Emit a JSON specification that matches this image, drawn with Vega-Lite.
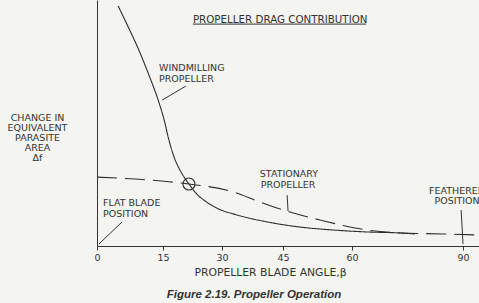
{
  "$schema": "https://vega.github.io/schema/vega-lite/v6.json",
  "width": 382,
  "height": 246,
  "autosize": {"type": "none"},
  "padding": {"left": 97, "top": 0, "right": 0, "bottom": 57},
  "background": "#f4f4f1",
  "config": {"view": {"stroke": null}, "font": "DejaVu Sans"},
  "title": {
    "text": "Figure 2.19. Propeller Operation",
    "orient": "bottom",
    "anchor": "middle",
    "dx": -34,
    "offset": 12,
    "font": "Liberation Sans",
    "fontSize": 11.5,
    "fontWeight": "bold",
    "fontStyle": "italic",
    "color": "#333333"
  },
  "datasets": {
    "curves": [
      {"series": "Windmilling", "angle": 4.8, "drag": 97.6},
      {"series": "Windmilling", "angle": 7.0, "drag": 89.4},
      {"series": "Windmilling", "angle": 9.5, "drag": 79.7},
      {"series": "Windmilling", "angle": 11.8, "drag": 69.5},
      {"series": "Windmilling", "angle": 13.9, "drag": 59.3},
      {"series": "Windmilling", "angle": 15.3, "drag": 51.2},
      {"series": "Windmilling", "angle": 16.5, "drag": 43.1},
      {"series": "Windmilling", "angle": 17.8, "drag": 36.2},
      {"series": "Windmilling", "angle": 19.3, "drag": 30.9},
      {"series": "Windmilling", "angle": 21.6, "drag": 25.2},
      {"series": "Windmilling", "angle": 23.6, "drag": 21.1},
      {"series": "Windmilling", "angle": 25.7, "drag": 18.3},
      {"series": "Windmilling", "angle": 28.7, "drag": 15.4},
      {"series": "Windmilling", "angle": 33.7, "drag": 12.6},
      {"series": "Windmilling", "angle": 41.1, "drag": 9.8},
      {"series": "Windmilling", "angle": 48.7, "drag": 7.7},
      {"series": "Windmilling", "angle": 55.9, "drag": 6.5},
      {"series": "Windmilling", "angle": 64.1, "drag": 5.7},
      {"series": "Windmilling", "angle": 73.0, "drag": 5.3},
      {"series": "Windmilling", "angle": 77.0, "drag": 4.9},
      {"series": "Stationary", "angle": 0, "drag": 28.0},
      {"series": "Stationary", "angle": 12.0, "drag": 26.8},
      {"series": "Stationary", "angle": 21.6, "drag": 25.2},
      {"series": "Stationary", "angle": 32.7, "drag": 22.0},
      {"series": "Stationary", "angle": 39.3, "drag": 17.9},
      {"series": "Stationary", "angle": 46.5, "drag": 13.8},
      {"series": "Stationary", "angle": 53.0, "drag": 10.6},
      {"series": "Stationary", "angle": 64.1, "drag": 6.5},
      {"series": "Stationary", "angle": 73.0, "drag": 5.3},
      {"series": "Stationary", "angle": 84.6, "drag": 4.9},
      {"series": "Stationary", "angle": 93.8, "drag": 4.5}
    ],
    "marker": [{"angle": 21.6, "drag": 25.2}],
    "leftLabels": [
      {"label": "PROPELLER  DRAG  CONTRIBUTION", "angle": 22.6, "drag": 91.9},
      {"label": "WINDMILLING", "angle": 14.1, "drag": 72.4},
      {"label": "PROPELLER", "angle": 14.1, "drag": 67.9},
      {"label": "FLAT BLADE", "angle": 1.36, "drag": 17.3},
      {"label": "POSITION", "angle": 1.36, "drag": 13.2}
    ],
    "centerLabels": [
      {"label": "STATIONARY", "angle": 46.3, "drag": 29.1},
      {"label": "PROPELLER", "angle": 46.1, "drag": 24.8},
      {"label": "FEATHERED", "angle": 88.4, "drag": 22.4},
      {"label": "POSITION", "angle": 88.4, "drag": 18.2}
    ],
    "leaders": [
      {"angle": 22.6, "drag": 90.2, "angle2": 63.8, "drag2": 90.2},
      {"angle": 20.8, "drag": 65.0, "angle2": 14.8, "drag2": 59.3},
      {"angle": 45.9, "drag": 20.7, "angle2": 46.1, "drag2": 14.2},
      {"angle": 89.5, "drag": 14.6, "angle2": 90.0, "drag2": 0.8},
      {"angle": 5.7, "drag": 9.8, "angle2": 0.45, "drag2": 0.8}
    ]
  },
  "encoding": {
    "x": {
      "field": "angle",
      "type": "quantitative",
      "scale": {
        "domain": [0, 15, 30, 45, 60, 90, 94.3],
        "range": [0, 66, 125, 186, 255, 366, 382],
        "nice": false
      },
      "axis": {
        "values": [0, 15, 30, 45, 60, 90],
        "grid": false,
        "domainColor": "#333333",
        "tickColor": "#333333",
        "tickSize": 4,
        "labelFlush": false,
        "labelFontSize": 9.5,
        "labelColor": "#333333",
        "labelPadding": 2,
        "title": "PROPELLER BLADE ANGLE,β",
        "titleX": 173,
        "titleY": 26,
        "titleAlign": "center",
        "titleBaseline": "middle",
        "titleFontSize": 10.8,
        "titleFontWeight": "normal",
        "titleColor": "#333333"
      }
    },
    "y": {
      "field": "drag",
      "type": "quantitative",
      "scale": {"domain": [0, 100], "nice": false},
      "axis": {
        "ticks": false,
        "labels": false,
        "grid": false,
        "domainColor": "#333333",
        "title": ["CHANGE IN", "EQUIVALENT", "PARASITE", "AREA", "Δf"],
        "titleAngle": 0,
        "titleX": -60,
        "titleY": 117,
        "titleAlign": "center",
        "titleBaseline": "middle",
        "titleLineHeight": 10,
        "titleFontSize": 9.5,
        "titleFontWeight": "normal",
        "titleColor": "#333333"
      }
    }
  },
  "layer": [
    {
      "data": {"name": "curves"},
      "mark": {"type": "line", "interpolate": "monotone", "color": "#2e2e2e", "strokeWidth": 1.1},
      "encoding": {
        "detail": {"field": "series", "type": "nominal"},
        "strokeDash": {
          "field": "series",
          "type": "nominal",
          "scale": {"domain": ["Windmilling", "Stationary"], "range": [[1, 0], [20, 8]]},
          "legend": null
        }
      }
    },
    {
      "data": {"name": "marker"},
      "mark": {"type": "point", "shape": "circle", "filled": false, "size": 144, "color": "#2e2e2e", "strokeWidth": 1.1, "opacity": 1}
    },
    {
      "data": {"name": "leaders"},
      "mark": {"type": "rule", "color": "#333333", "strokeWidth": 1},
      "encoding": {
        "x2": {"field": "angle2"},
        "y2": {"field": "drag2"}
      }
    },
    {
      "data": {"name": "leftLabels"},
      "mark": {"type": "text", "align": "left", "baseline": "middle", "fontSize": 9.5, "color": "#333333"},
      "encoding": {
        "text": {"field": "label", "type": "nominal"},
        "size": {"condition": {"test": "indexof(datum.label, 'DRAG') >= 0", "value": 10.3}, "value": 9.5}
      }
    },
    {
      "data": {"name": "centerLabels"},
      "mark": {"type": "text", "align": "center", "baseline": "middle", "fontSize": 9.5, "color": "#333333"},
      "encoding": {"text": {"field": "label", "type": "nominal"}}
    }
  ]
}
